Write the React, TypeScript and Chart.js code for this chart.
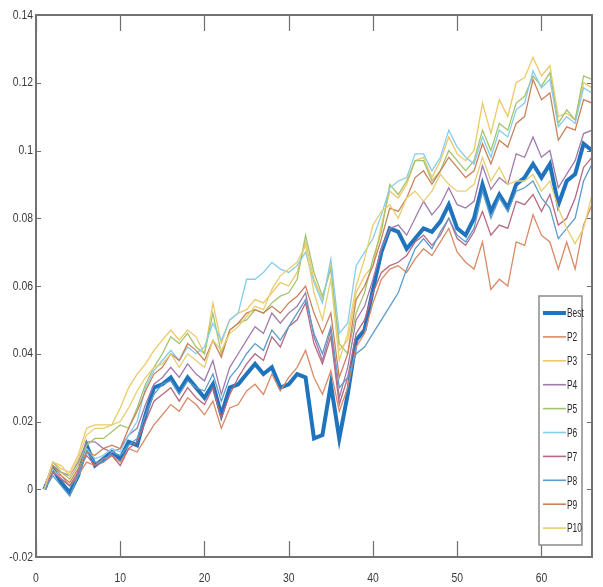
import React, { useEffect, useRef } from "react";
import { Chart, registerables } from "chart.js";

Chart.register(...registerables);

const xValues = [
  1, 2, 3, 4, 5, 6, 7, 8, 9, 10, 11, 12, 13, 14, 15, 16, 17, 18, 19, 20, 21, 22,
  23, 24, 25, 26, 27, 28, 29, 30, 31, 32, 33, 34, 35, 36, 37, 38, 39, 40, 41, 42,
  43, 44, 45, 46, 47, 48, 49, 50, 51, 52, 53, 54, 55, 56, 57, 58, 59, 60, 61, 62,
  63, 64, 65, 66,
];

const xTicks = [0, 10, 20, 30, 40, 50, 60];
const yTicks = [-0.02, 0, 0.02, 0.04, 0.06, 0.08, 0.1, 0.12, 0.14];

const seriesNames = ["Best", "P2", "P3", "P4", "P5", "P6", "P7", "P8", "P9", "P10"];

const best = [
  0.0, 0.006, 0.002, -0.001, 0.004, 0.013, 0.007, 0.009, 0.011, 0.009,
  0.014, 0.013, 0.022, 0.03, 0.031, 0.033, 0.029, 0.033, 0.03, 0.027,
  0.031, 0.022, 0.03, 0.031, 0.034, 0.037, 0.034, 0.036, 0.03, 0.031,
  0.034, 0.033, 0.015, 0.016, 0.031, 0.015, 0.028, 0.044, 0.047, 0.059,
  0.07, 0.077, 0.076, 0.071, 0.074, 0.077, 0.076, 0.079, 0.084, 0.077,
  0.075, 0.08, 0.09, 0.082, 0.087, 0.083, 0.09, 0.092, 0.096, 0.092,
  0.096, 0.084, 0.091, 0.093, 0.102, 0.1,
];

const p2 = [
  0, 0.005, 0.004, 0.001, 0.004, 0.008, 0.007, 0.009, 0.01, 0.008,
  0.012, 0.011, 0.015, 0.019, 0.022, 0.025, 0.023, 0.027, 0.025, 0.022,
  0.026, 0.018, 0.024, 0.025, 0.029, 0.031, 0.028, 0.034, 0.029, 0.033,
  0.036, 0.041, 0.033, 0.028, 0.035, 0.023, 0.03, 0.042, 0.046, 0.055,
  0.062, 0.065, 0.066, 0.064, 0.068, 0.071, 0.069, 0.073, 0.077, 0.07,
  0.067, 0.065, 0.073, 0.059, 0.062, 0.06, 0.073, 0.072, 0.081, 0.075,
  0.073, 0.065, 0.073, 0.065, 0.078, 0.084,
];

const p3 = [
  0, 0.008, 0.006, 0.005, 0.01, 0.018, 0.019, 0.019, 0.019, 0.024,
  0.03, 0.034, 0.037, 0.041, 0.044, 0.047, 0.044, 0.047, 0.045, 0.04,
  0.055, 0.043, 0.05, 0.052, 0.053, 0.056, 0.055, 0.058, 0.061, 0.06,
  0.064, 0.073, 0.062, 0.056, 0.066, 0.041, 0.044, 0.058, 0.063, 0.066,
  0.078, 0.088, 0.086, 0.09, 0.097, 0.098, 0.092, 0.097, 0.104, 0.099,
  0.097, 0.1, 0.114, 0.105, 0.115, 0.11, 0.12, 0.1215, 0.1275, 0.122,
  0.125, 0.11, 0.111, 0.109, 0.12, 0.1185,
];

const p4 = [
  0, 0.007, 0.005, 0.004, 0.008, 0.014, 0.014, 0.012, 0.011, 0.012,
  0.016, 0.018, 0.025, 0.031, 0.033, 0.036, 0.033, 0.037, 0.034, 0.032,
  0.038, 0.028, 0.036, 0.04, 0.044, 0.048, 0.046, 0.052, 0.049, 0.052,
  0.054, 0.058, 0.045, 0.038, 0.047, 0.027, 0.036, 0.05, 0.054, 0.062,
  0.071, 0.077, 0.078, 0.075, 0.08, 0.085, 0.081, 0.084, 0.089, 0.084,
  0.083, 0.085, 0.0955, 0.0885, 0.092, 0.09, 0.099, 0.098, 0.104, 0.098,
  0.1, 0.089, 0.093, 0.097, 0.105, 0.106,
];

const p5 = [
  0, 0.008, 0.005, 0.003, 0.007, 0.013, 0.015, 0.015, 0.017, 0.019,
  0.018, 0.024, 0.031, 0.036, 0.04, 0.045, 0.043, 0.046, 0.042, 0.04,
  0.052, 0.04, 0.047, 0.049, 0.05, 0.053, 0.052, 0.055, 0.057, 0.058,
  0.062, 0.075, 0.064, 0.057, 0.065, 0.043, 0.04, 0.052, 0.058, 0.068,
  0.076, 0.09, 0.087, 0.091, 0.097, 0.097, 0.091, 0.094, 0.1, 0.097,
  0.094, 0.097, 0.106, 0.1, 0.108, 0.106, 0.114, 0.116, 0.122, 0.119,
  0.123, 0.108, 0.112, 0.109, 0.122, 0.121,
];

const p6 = [
  0, 0.006, 0.003, 0.001, 0.005, 0.012, 0.009, 0.01, 0.012, 0.011,
  0.016, 0.02, 0.03, 0.035, 0.038, 0.041, 0.038, 0.042, 0.04, 0.042,
  0.049, 0.044, 0.05, 0.052, 0.062, 0.062, 0.064, 0.067, 0.065, 0.064,
  0.066, 0.07, 0.061, 0.055, 0.068, 0.046, 0.049, 0.066, 0.07, 0.074,
  0.081, 0.089, 0.091, 0.092, 0.099, 0.099, 0.094, 0.098, 0.106, 0.101,
  0.098, 0.096, 0.104, 0.098, 0.106, 0.104, 0.112, 0.114, 0.1235, 0.1185,
  0.121, 0.107, 0.11, 0.108, 0.1185, 0.117,
];

const p7 = [
  0, 0.005, 0.003, 0.001, 0.005, 0.01, 0.007, 0.008, 0.01, 0.007,
  0.012, 0.014, 0.02, 0.026, 0.028, 0.03, 0.026, 0.03, 0.027, 0.025,
  0.03, 0.021, 0.028, 0.033, 0.037, 0.04, 0.038, 0.045, 0.042, 0.048,
  0.05, 0.055, 0.043, 0.037, 0.045, 0.025, 0.033, 0.046, 0.05, 0.058,
  0.064, 0.066, 0.067, 0.069, 0.073, 0.075, 0.072, 0.075, 0.08, 0.074,
  0.072, 0.076, 0.082, 0.075, 0.078, 0.077, 0.085, 0.084, 0.087, 0.082,
  0.087, 0.078, 0.08, 0.086, 0.095, 0.098,
];

const p8 = [
  0, 0.004, 0.001, -0.002, 0.004, 0.011, 0.008, 0.008, 0.011, 0.01,
  0.013, 0.015, 0.022, 0.028, 0.031, 0.032, 0.028, 0.032, 0.03, 0.029,
  0.034, 0.026, 0.033, 0.036, 0.04, 0.043, 0.041, 0.047, 0.044, 0.048,
  0.052, 0.056, 0.046, 0.04, 0.048, 0.03, 0.033, 0.04, 0.042, 0.046,
  0.05, 0.054, 0.058, 0.065, 0.071, 0.074, 0.071, 0.076, 0.08, 0.075,
  0.073, 0.077, 0.088, 0.08, 0.086, 0.082, 0.088, 0.089, 0.091, 0.086,
  0.083, 0.074, 0.077, 0.08, 0.091, 0.096,
];

const p9 = [
  0, 0.007, 0.004, 0.002, 0.006, 0.011, 0.01, 0.012, 0.013, 0.012,
  0.018, 0.023, 0.029, 0.034, 0.036, 0.04, 0.038, 0.043, 0.041, 0.038,
  0.044, 0.039, 0.047, 0.049, 0.052, 0.053, 0.052, 0.054, 0.052, 0.055,
  0.057, 0.06, 0.052, 0.046, 0.052, 0.033, 0.04, 0.056, 0.06, 0.066,
  0.074, 0.083, 0.082, 0.086, 0.092, 0.094, 0.09, 0.094, 0.098, 0.095,
  0.092, 0.094, 0.102, 0.096, 0.103, 0.101, 0.108, 0.11, 0.121, 0.115,
  0.117, 0.103, 0.107, 0.106, 0.115, 0.114,
];

const p10 = [
  0, 0.008, 0.007, 0.004, 0.009, 0.016, 0.018, 0.018, 0.019, 0.02,
  0.024, 0.029, 0.033, 0.036, 0.037, 0.04, 0.036, 0.04, 0.038, 0.036,
  0.044, 0.041, 0.046, 0.048, 0.051, 0.054, 0.053, 0.059, 0.063, 0.065,
  0.067, 0.072, 0.058, 0.05, 0.062, 0.038, 0.046, 0.06, 0.068, 0.078,
  0.082, 0.084, 0.08, 0.086, 0.088, 0.085, 0.088, 0.093, 0.09, 0.088,
  0.088, 0.09, 0.098, 0.091, 0.095, 0.09, 0.091, 0.091, 0.093, 0.088,
  0.091, 0.083, 0.077, 0.0725, 0.077, 0.087,
];

const allSeries = [best, p2, p3, p4, p5, p6, p7, p8, p9, p10];

const seriesColors = [
  "#1f74bd",
  "#d98a66",
  "#edc868",
  "#a07aab",
  "#a3c46e",
  "#86cdec",
  "#b8687f",
  "#5d9bcb",
  "#c9825a",
  "#e6cf72",
];
const seriesWidths = [4, 1.3, 1.3, 1.3, 1.3, 1.3, 1.3, 1.3, 1.3, 1.3];

const FONT = "'Liberation Sans', Arial, sans-serif";

const fmt = (v: number) => String(parseFloat(Number(v).toFixed(2)));

const framePlugin = {
  id: "matlabFrame",
  afterDatasetsDraw(chart: any) {
    const { ctx, chartArea, scales } = chart;
    const { left, right, top, bottom } = chartArea;
    const xs = scales.x;
    const ys = scales.y;
    ctx.save();
    ctx.strokeStyle = "#6f6f6f";
    ctx.lineWidth = 1.2;
    ctx.beginPath();
    xTicks.forEach((v) => {
      const px = Math.round(xs.getPixelForValue(v)) + 0.5;
      ctx.moveTo(px, bottom);
      ctx.lineTo(px, bottom - 16);
      ctx.moveTo(px, top);
      ctx.lineTo(px, top + 16);
    });
    yTicks.forEach((v) => {
      const py = Math.round(ys.getPixelForValue(v)) + 0.5;
      ctx.moveTo(left, py);
      ctx.lineTo(left + 5, py);
      ctx.moveTo(right, py);
      ctx.lineTo(right - 5, py);
    });
    ctx.stroke();
    ctx.lineWidth = 2;
    ctx.strokeStyle = "#727272";
    ctx.strokeRect(left, top, right - left, bottom - top);

    // tick labels (condensed)
    ctx.fillStyle = "#3a3a3a";
    ctx.font = "13px " + FONT;
    ctx.textBaseline = "middle";
    yTicks.forEach((v) => {
      const py = ys.getPixelForValue(v);
      ctx.save();
      ctx.translate(left - 3, py);
      ctx.scale(0.8, 1);
      ctx.textAlign = "right";
      ctx.fillText(fmt(v), 0, 0);
      ctx.restore();
    });
    ctx.textBaseline = "top";
    xTicks.forEach((v) => {
      const px = xs.getPixelForValue(v);
      ctx.save();
      ctx.translate(px, bottom + 15);
      ctx.scale(0.8, 1);
      ctx.textAlign = "center";
      ctx.fillText(fmt(v), 0, 0);
      ctx.restore();
    });
    ctx.restore();
  },
  afterDraw(chart: any) {
    const { ctx, chartArea } = chart;
    const boxW = 43;
    const boxH = 249;
    const bx = chartArea.right - 10 - boxW;
    const by = chartArea.bottom - 12 - boxH;
    ctx.save();
    ctx.fillStyle = "#ffffff";
    ctx.fillRect(bx, by, boxW, boxH);
    ctx.strokeStyle = "#8a8a8a";
    ctx.lineWidth = 1.5;
    ctx.strokeRect(bx, by, boxW, boxH);
    chart.data.datasets.forEach((ds: any, i: number) => {
      const y = by + 17 + i * 23.9;
      ctx.beginPath();
      ctx.strokeStyle = ds.borderColor;
      ctx.lineWidth = i === 0 ? 4 : 1.6;
      ctx.moveTo(bx + 4, y);
      ctx.lineTo(bx + 27, y);
      ctx.stroke();
      ctx.save();
      ctx.translate(bx + 28, y);
      ctx.scale(0.7, 1);
      ctx.fillStyle = "#2a2a2a";
      ctx.font = "12px " + FONT;
      ctx.textBaseline = "middle";
      ctx.textAlign = "left";
      ctx.fillText(ds.label, 0, 1);
      ctx.restore();
    });
    ctx.restore();
  },
};

export default function App() {
  const canvasRef = useRef<HTMLCanvasElement | null>(null);

  useEffect(() => {
    document.body.style.margin = "0";
    const canvas = canvasRef.current;
    if (!canvas) return;
    const datasets = allSeries.map((vals, i) => ({
      label: seriesNames[i],
      data: vals.map((v, j) => ({ x: xValues[j], y: v })),
      borderColor: seriesColors[i],
      backgroundColor: seriesColors[i],
      borderWidth: seriesWidths[i],
      pointRadius: 0,
      tension: 0,
      fill: false,
      order: allSeries.length - 1 - i,
    }));
    const chart = new Chart(canvas, {
      type: "line",
      data: { datasets },
      options: {
        animation: false,
        responsive: false,
        maintainAspectRatio: false,
        layout: { padding: { top: 15, right: 11, bottom: 0, left: 0 } },
        plugins: {
          legend: { display: false },
          tooltip: { enabled: false },
          title: { display: false },
        },
        scales: {
          x: {
            type: "linear",
            min: 0,
            max: 66,
            afterBuildTicks: (s: any) => {
              s.ticks = xTicks.map((v) => ({ value: v }));
            },
            afterFit: (s: any) => {
              s.height = 30;
            },
            grid: { display: false, drawTicks: false },
            border: { display: false },
            ticks: { display: false },
          },
          y: {
            type: "linear",
            min: -0.02,
            max: 0.14,
            afterBuildTicks: (s: any) => {
              s.ticks = yTicks.map((v) => ({ value: v }));
            },
            afterFit: (s: any) => {
              s.width = 36;
            },
            grid: { display: false, drawTicks: false },
            border: { display: false },
            ticks: { display: false },
          },
        },
      },
      plugins: [framePlugin],
    } as any);
    return () => chart.destroy();
  }, []);

  return (
    <div style={{ width: 603, height: 587, position: "relative", background: "#fff" }}>
      <canvas ref={canvasRef} width={603} height={587} style={{ display: "block" }} />
    </div>
  );
}
